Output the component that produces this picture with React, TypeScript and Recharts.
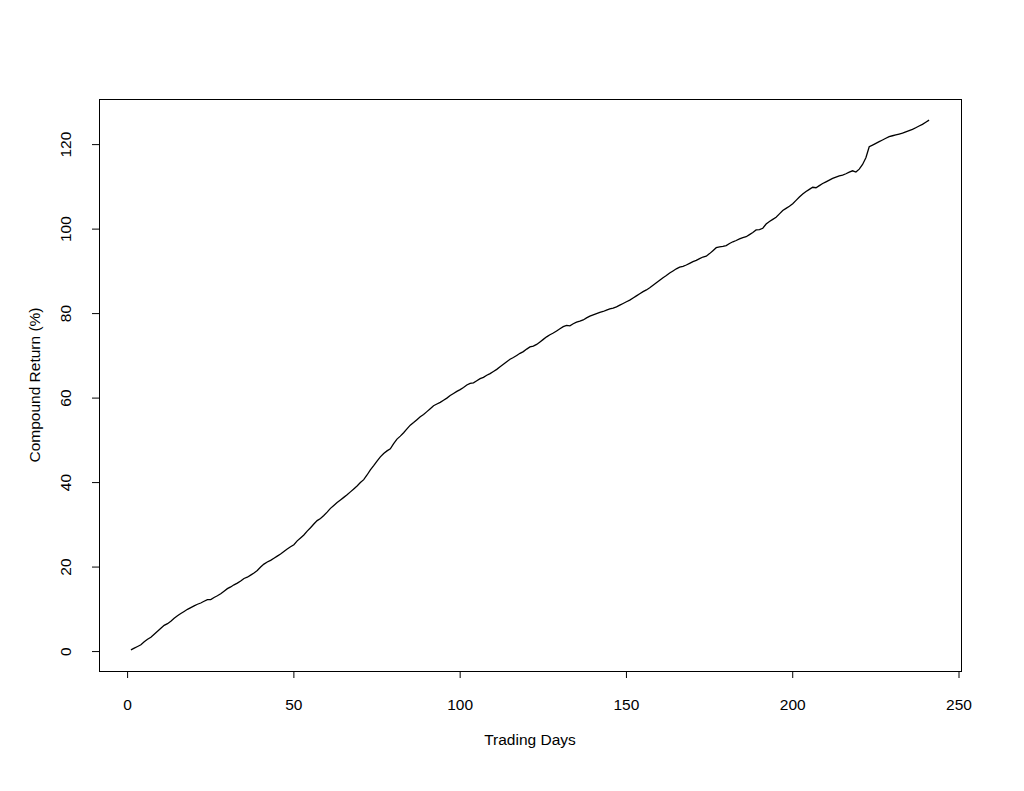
import React from "react";
import { LineChart, Line, XAxis, YAxis } from "recharts";

// compound return (%) per trading day
const compoundReturn: number[] = [
  0.4, 0.8, 1.2, 1.6, 2.3, 2.9, 3.4, 4.1, 4.8, 5.5,
  6.2, 6.6, 7.2, 7.9, 8.5, 9.0, 9.5, 10.0, 10.4, 10.8,
  11.2, 11.5, 11.9, 12.3, 12.3, 12.8, 13.2, 13.7, 14.3, 14.9,
  15.3, 15.8, 16.2, 16.7, 17.3, 17.6, 18.1, 18.6, 19.2, 20.0,
  20.7, 21.2, 21.6, 22.1, 22.6, 23.1, 23.7, 24.3, 24.8, 25.3,
  26.2, 26.9, 27.6, 28.5, 29.3, 30.2, 31.0, 31.5, 32.2, 33.0,
  33.9, 34.6, 35.3, 35.9, 36.5, 37.1, 37.8, 38.5, 39.2, 40.0,
  40.7, 41.8, 43.0, 44.0, 45.1, 46.1, 46.9, 47.5, 48.0, 49.2,
  50.3, 51.0, 51.8, 52.7, 53.6, 54.2, 54.9, 55.6, 56.1, 56.8,
  57.5, 58.2, 58.6, 59.0, 59.5, 60.0, 60.6, 61.1, 61.6, 62.0,
  62.5, 63.1, 63.5, 63.6, 64.1, 64.6, 64.9, 65.4, 65.8, 66.3,
  66.8, 67.4, 68.0, 68.6, 69.2, 69.6, 70.1, 70.6, 71.0, 71.6,
  72.1, 72.3, 72.7, 73.3, 73.9, 74.5, 75.0, 75.4, 75.9, 76.4,
  76.9, 77.2, 77.1, 77.6, 78.0, 78.2, 78.5, 79.0, 79.4, 79.7,
  80.0, 80.3, 80.5, 80.8, 81.1, 81.3, 81.6, 82.0, 82.4, 82.8,
  83.2, 83.7, 84.2, 84.7, 85.2, 85.6, 86.1, 86.7, 87.3, 87.9,
  88.5, 89.0, 89.6, 90.1, 90.6, 91.0, 91.2, 91.5, 91.9, 92.3,
  92.6, 93.0, 93.4, 93.6, 94.2, 94.9, 95.6, 95.8, 95.9, 96.1,
  96.6, 97.0, 97.3, 97.7, 98.0, 98.2, 98.7, 99.2, 99.8, 99.9,
  100.2, 101.2, 101.8, 102.3, 102.8, 103.6, 104.4, 104.9, 105.4, 106.0,
  106.8, 107.6, 108.3, 108.9, 109.4, 109.9, 109.8, 110.3, 110.8, 111.2,
  111.6, 112.0, 112.3, 112.6, 112.8, 113.1, 113.5, 113.8, 113.5, 114.2,
  115.3, 116.9, 119.5, 119.9, 120.3, 120.7, 121.1, 121.5, 121.9, 122.1,
  122.3, 122.5, 122.7, 123.0, 123.3, 123.6, 124.0, 124.4, 124.8, 125.3,
  125.8,
];

const xTicks = [0, 50, 100, 150, 200, 250];
const yTicks = [0, 20, 40, 60, 80, 100, 120];

const data = compoundReturn.map((v, i) => ({ day: i + 1, ret: v }));

const FONT = "'Liberation Sans', Arial, Helvetica, sans-serif";

const XTick = (props: any) => {
  const { x, y, payload } = props;
  return (
    <text x={x} y={y + 24} textAnchor="middle" dominantBaseline="central" fontFamily={FONT} fontSize={15.5} fill="#000">
      {payload.value}
    </text>
  );
};

const YTick = (props: any) => {
  const { x, y, payload } = props;
  return (
    <text
      x={66}
      y={y}
      textAnchor="middle"
      dominantBaseline="central"
      transform={`rotate(-90, 66, ${y})`}
      fontFamily={FONT}
      fontSize={15.5}
      fill="#000"
    >
      {payload.value}
    </text>
  );
};

export default function App() {
  return (
    <div style={{ position: "absolute", left: 0, top: 0, width: 1024, height: 791, background: "#fff" }}>
      <LineChart width={1024} height={791} data={data} margin={{ top: 99, right: 63, bottom: 80, left: 39 }}>
        <XAxis
          dataKey="day"
          type="number"
          domain={[-8.6, 250.6]}
          ticks={xTicks}
          allowDataOverflow
          axisLine={false}
          tickLine={{ stroke: "#000" }}
          tickSize={7}
          tick={<XTick />}
          height={40}
        />
        <YAxis
          type="number"
          domain={[-4.6, 130.8]}
          ticks={yTicks}
          allowDataOverflow
          axisLine={false}
          tickLine={{ stroke: "#000" }}
          tickSize={7}
          tick={<YTick />}
          width={60}
        />
        <Line dataKey="ret" type="linear" stroke="#000" strokeWidth={1.3} dot={false} isAnimationActive={false} />
      </LineChart>
      <div
        style={{
          position: "absolute",
          left: 99,
          top: 99,
          width: 863,
          height: 573,
          border: "1px solid #000",
          boxSizing: "border-box",
          pointerEvents: "none",
        }}
      />
      <div
        style={{
          position: "absolute",
          left: 430,
          width: 200,
          top: 730,
          textAlign: "center",
          fontFamily: FONT,
          fontSize: 15.5,
          lineHeight: "20px",
        }}
      >
        Trading Days
      </div>
      <div
        style={{
          position: "absolute",
          left: 35 - 120,
          top: 385 - 10,
          width: 240,
          height: 20,
          textAlign: "center",
          fontFamily: FONT,
          fontSize: 15.5,
          lineHeight: "20px",
          transform: "rotate(-90deg)",
        }}
      >
        Compound Return (%)
      </div>
    </div>
  );
}
